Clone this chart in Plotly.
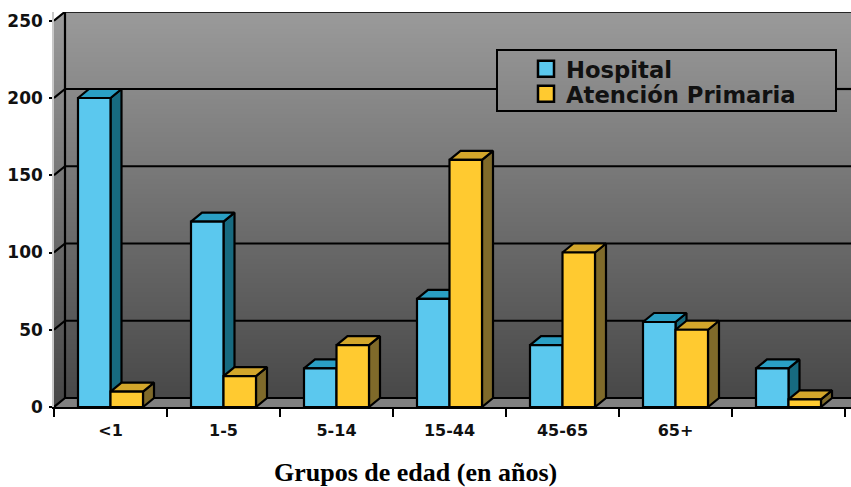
import plotly.graph_objects as go

categories = ["&lt;1", "1-5", "5-14", "15-44", "45-65", "65+", ""]
hospital = [200, 120, 25, 70, 40, 55, 25]
primaria = [10, 20, 40, 160, 100, 50, 5]
y_ticks = [0, 50, 100, 150, 200, 250]

W, H = 851, 487
L, R, T, B = 54, 851, 12, 407      # plot area in pixels
UX = 113.0                         # pixels per category
UY = 1.545                         # pixels per y unit
DX = 11 / UX                       # depth offset, data units
DY = 9 / UY
BAR = 32.5 / UX
XMAX = (R - L) / UX
YMAX = (B - T) / UY
BOX = (497, 50, 836, 111)          # legend frame, pixels
FONT = "DejaVu Sans"


def px(x):
    return (x - L) / (R - L)


def py(y):
    return (B - y) / (B - T)


fig = go.Figure()

# back + left wall gradient
fig.add_trace(go.Heatmap(
    x=[0, XMAX], y=[0, YMAX], z=[[0, 0], [1, 1]], zsmooth="best", showscale=False, hoverinfo="skip",
    colorscale=[[0, "#464646"], [1, "#9a9a9a"]], zmin=0, zmax=1,
))


def poly(xs, ys, fill=None, width=2.2, name=None):
    fig.add_trace(go.Scatter(
        x=xs, y=ys, mode="lines", line=dict(color="black", width=width),
        fill="toself" if fill else "none", fillcolor=fill, showlegend=False,
        cliponaxis=False, hoverinfo="skip", connectgaps=False,
    ))


# white mask above the left wall's slanted top
fig.add_trace(go.Scatter(
    x=[0, DX, 0, 0], y=[250, YMAX, YMAX, 250], mode="lines", line=dict(color="white", width=0),
    fill="toself", fillcolor="white", showlegend=False, hoverinfo="skip",
))

# floor
poly([0, DX, XMAX + DX, XMAX, 0], [0, DY, DY, 0, 0], "#808080", width=0)

# grid lines on the back wall and left wall
box_l, box_r = (BOX[0] - L) / UX, (BOX[2] - L) / UX
box_t, box_b = (B - BOX[1]) / UY, (B - BOX[3]) / UY
for v in y_ticks:
    yy = v + DY
    if box_b < yy < box_t:
        poly([0, DX, box_l, None, box_r, XMAX], [v, yy, yy, None, yy, yy])
    else:
        poly([0, DX, XMAX], [v, yy, yy])
poly([DX, DX], [DY, YMAX])


def bar3d(x0, v, front, top, side):
    x1 = x0 + BAR
    poly([x1, x1 + DX, x1 + DX, x1, x1], [0, DY, v + DY, v, 0], side)
    poly([x0, x0 + DX, x1 + DX, x1, x0], [v, v + DY, v + DY, v, v], top)
    poly([x0, x1, x1, x0, x0], [0, 0, v, v, 0], front)


for i, (a, b) in enumerate(zip(hospital, primaria)):
    c = i + 0.5
    bar3d(c - BAR, a, "#5BC8EE", "#2A9FC4", "#176A80")
    bar3d(c, b, "#FFCA30", "#D3A62B", "#7F6A2A")

# legend entries
fig.add_trace(go.Scatter(x=[None], y=[None], mode="markers", name="Hospital", legend="legend",
                         marker=dict(symbol="square", size=17, color="#5BC8EE", line=dict(color="black", width=2.5))))
fig.add_trace(go.Scatter(x=[None], y=[None], mode="markers", name="Atención Primaria", legend="legend2",
                         marker=dict(symbol="square", size=17, color="#FFCA30", line=dict(color="black", width=2.5))))

legend_common = dict(bgcolor="rgba(0,0,0,0)", borderwidth=0, xanchor="left", yanchor="middle",
                     font=dict(family=FONT, size=22.7, color="#111111", weight="bold"),
                     itemsizing="trace", itemclick=False, itemdoubleclick=False)

fig.update_layout(
    width=W, height=H, autosize=False,
    margin=dict(l=L, r=W - R, t=T, b=H - B, pad=0),
    paper_bgcolor="white", plot_bgcolor="white",
    showlegend=True,
    legend=dict(x=px(526), y=py(69), **legend_common),
    legend2=dict(x=px(526), y=py(94), **legend_common),
    xaxis=dict(
        range=[0, XMAX], showgrid=False, zeroline=False, showline=True, linecolor="black", linewidth=2,
        tickmode="array", tickvals=[i + 0.5 for i in range(len(categories))], ticktext=categories,
        ticks="", tickfont=dict(family=FONT, size=16, color="#111111", weight="bold"), ticklabelstandoff=8,
        minor=dict(tickmode="array", tickvals=list(range(len(categories) + 1)), ticks="outside",
                   ticklen=8, tickwidth=2, tickcolor="black", showgrid=False),
    ),
    yaxis=dict(
        range=[0, YMAX], showgrid=False, zeroline=False, showline=True, linecolor="#c8c8c8", linewidth=1.5,
        tickmode="array", tickvals=y_ticks, ticks="outside", ticklen=3, tickwidth=2, tickcolor="black",
        ticklabelstandoff=3,
        tickfont=dict(family=FONT, size=17, color="#111111", weight="bold"),
    ),
    shapes=[dict(type="rect", xref="paper", yref="paper", x0=px(BOX[0]), x1=px(BOX[2]), y0=py(BOX[3]), y1=py(BOX[1]),
                 line=dict(color="black", width=2), fillcolor="rgba(0,0,0,0)")],
    annotations=[dict(text="<b>Grupos de edad (en años)</b>", xref="paper", yref="paper", x=px(415), y=py(472),
                      showarrow=False, xanchor="center", yanchor="middle",
                      font=dict(family="Liberation Serif", size=26, color="black"))],
)

fig.write_html("out.html", config={"displayModeBar": False}, post_script="document.body.style.margin='0';")
